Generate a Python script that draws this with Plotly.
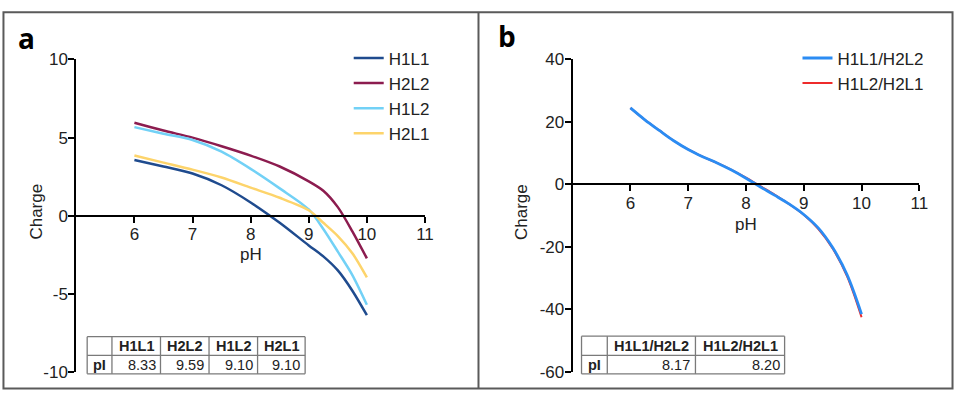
import plotly.graph_objects as go

# ---- Panel a: net charge of the four antibodies vs pH ----
ph_a = [6.0, 6.5, 7.0, 7.5, 8.0, 8.5, 9.0, 9.25, 9.5, 9.75, 10.0]
h1l1 = [3.57, 3.15, 2.70, 1.95, 0.85, -0.45, -1.90, -2.60, -3.50, -4.80, -6.37]
h2l2 = [5.95, 5.45, 5.00, 4.45, 3.85, 3.15, 2.20, 1.60, 0.55, -1.00, -2.73]
h1l2 = [5.67, 5.25, 4.85, 4.10, 3.00, 1.75, 0.40, -0.85, -2.30, -3.80, -5.70]
h2l1 = [3.85, 3.40, 2.95, 2.45, 1.80, 1.15, 0.35, -0.45, -1.30, -2.40, -3.95]

# ---- Panel b: combined charge of the two pairs ----
ph_b = [6.0, 6.25, 6.5, 6.75, 7.0, 7.25, 7.5, 7.75, 8.0, 8.25, 8.5, 8.75,
        9.0, 9.25, 9.5, 9.75, 10.0]
pair_11_22 = [24.5, 20.7, 17.3, 14.0, 11.2, 8.9, 6.9, 4.6, 2.0, -0.8, -3.5,
              -6.3, -9.6, -13.9, -20.2, -28.9, -41.5]
pair_12_21 = [24.5, 20.7, 17.3, 14.0, 11.2, 8.9, 6.9, 4.7, 2.2, -0.55, -3.3,
              -6.3, -9.7, -14.2, -20.5, -29.4, -42.5]

# pI tables
pi_names_a = ["H1L1", "H2L2", "H1L2", "H2L1"]
pi_values_a = ["8.33", "9.59", "9.10", "9.10"]
pi_names_b = ["H1L1/H2L2", "H1L2/H2L1"]
pi_values_b = ["8.17", "8.20"]

# tick labels (plain hyphen minus)
yticks_a = [-10, -5, 0, 5, 10]
yticks_b = [-60, -40, -20, 0, 20, 40]
xticks = [6, 7, 8, 9, 10, 11]

W, H = 964, 401
FONT = "Liberation Sans, Arial, sans-serif"
TXT = "#222222"
FS = 17


def px(x):
    return x / W


def py(y):
    return 1 - y / H


fig = go.Figure()

series_a = [
    ("H1L1", h1l1, "#1f4b8e"),
    ("H2L2", h2l2, "#8c1c4f"),
    ("H1L2", h1l2, "#72d1f6"),
    ("H2L1", h2l1, "#fdd46b"),
]
for name, vals, col in series_a:
    fig.add_trace(go.Scatter(
        x=ph_a, y=vals, name=name, mode="lines",
        line=dict(color=col, width=2.5, shape="spline", smoothing=0.8),
        xaxis="x", yaxis="y", legend="legend",
    ))

fig.add_trace(go.Scatter(
    x=ph_b, y=pair_12_21, name="H1L2/H2L1", mode="lines",
    line=dict(color="#ee2b2b", width=2.0, shape="spline", smoothing=1.0),
    xaxis="x2", yaxis="y2", legend="legend2", legendrank=2,
))
fig.add_trace(go.Scatter(
    x=ph_b, y=pair_11_22, name="H1L1/H2L2", mode="lines",
    line=dict(color="#2b8cf3", width=2.8, shape="spline", smoothing=1.0),
    xaxis="x2", yaxis="y2", legend="legend2", legendrank=1,
))

axis_common = dict(
    showline=True, linecolor="black", linewidth=2,
    ticks="outside", ticklen=6, tickwidth=2, tickcolor="black",
    showgrid=False, zeroline=False,
    tickfont=dict(family=FONT, size=FS, color=TXT),
    ticklabelstandoff=-3,
    fixedrange=True,
)

ydom = [py(381), py(53)]

fig.update_layout(
    width=W, height=H,
    margin=dict(l=0, r=0, t=0, b=0),
    paper_bgcolor="white", plot_bgcolor="white",
    font=dict(family=FONT, size=FS, color=TXT),
    xaxis=dict(domain=[px(77), px(429)], range=[5, 11], anchor="free",
               position=ydom[0] + (ydom[1] - ydom[0]) * 0.5,
               tickvals=xticks, **axis_common),
    yaxis=dict(domain=ydom, range=[-10, 10], anchor="x",
               tickvals=yticks_a, ticktext=[str(v) for v in yticks_a],
               **axis_common),
    xaxis2=dict(domain=[px(578), px(928)], range=[5, 11], anchor="free",
                position=ydom[0] + (ydom[1] - ydom[0]) * 0.6,
                tickvals=xticks, **axis_common),
    yaxis2=dict(domain=ydom, range=[-60, 40], anchor="x2",
                tickvals=yticks_b, ticktext=[str(v) for v in yticks_b],
                **axis_common),
    legend=dict(x=px(352), y=py(33), xanchor="left", yanchor="top",
                bgcolor="rgba(0,0,0,0)", itemwidth=30, tracegroupgap=0,
                font=dict(family=FONT, size=FS, color=TXT)),
    legend2=dict(x=px(805), y=py(33), xanchor="left", yanchor="top",
                 bgcolor="rgba(0,0,0,0)", itemwidth=30, tracegroupgap=0,
                 font=dict(family=FONT, size=FS, color=TXT)),
    showlegend=True,
)

# panel letters and axis titles
annos = [
    dict(text="<b>a</b>", x=px(27), y=py(30), font=dict(family="Open Sans, sans-serif", size=28, color="black")),
    dict(text="<b>b</b>", x=px(512), y=py(28), font=dict(family="Open Sans, sans-serif", size=28, color="black")),
    dict(text="pH", x=px(253), y=py(258)),
    dict(text="pH", x=px(753), y=py(226)),
    dict(text="Charge", x=px(37), y=py(213), textangle=-90),
    dict(text="Charge", x=px(527), y=py(213), textangle=-90),
]
for a in annos:
    a.setdefault("font", dict(family=FONT, size=FS, color=TXT))
    fig.add_annotation(xref="paper", yref="paper", showarrow=False,
                       xanchor="center", yanchor="middle", **a)


# small pI tables: grid lines as shapes, cell text as annotations
def pi_table(names, values, col_edges, top, mid, bottom):
    grid = dict(color="#7a7a7a", width=1.3)
    left, right = col_edges[0], col_edges[-1]
    for yy in (top, mid, bottom):
        fig.add_shape(type="line", xref="paper", yref="paper",
                      x0=px(left), x1=px(right), y0=py(yy), y1=py(yy), line=grid)
    for xx in col_edges:
        fig.add_shape(type="line", xref="paper", yref="paper",
                      x0=px(xx), x1=px(xx), y0=py(top), y1=py(bottom), line=grid)
    tfont = dict(family=FONT, size=14.5, color=TXT)
    hy = (top + mid) / 2
    vy = (mid + bottom) / 2
    fig.add_annotation(text="<b>pI</b>", x=px((col_edges[0] + col_edges[1]) / 2),
                       y=py(vy), xanchor="center", yanchor="middle",
                       xref="paper", yref="paper", showarrow=False, font=tfont)
    for i, (n, v) in enumerate(zip(names, values)):
        c0, c1 = col_edges[i + 1], col_edges[i + 2]
        fig.add_annotation(text="<b>%s</b>" % n, x=px((c0 + c1) / 2), y=py(hy),
                           xanchor="center", yanchor="middle",
                           xref="paper", yref="paper", showarrow=False, font=tfont)
        fig.add_annotation(text=v, x=px(c1 - 3), y=py(vy),
                           xanchor="right", yanchor="middle",
                           xref="paper", yref="paper", showarrow=False, font=tfont)


pi_table(pi_names_a, pi_values_a, [88, 113, 162, 211, 260, 308], 344, 363.5, 383)
pi_table(pi_names_b, pi_values_b, [587, 613, 702, 792], 343.5, 363.5, 383)

# frame around both panels and the divider
frame = dict(color="#5a5a5a", width=2)
fig.add_shape(type="rect", xref="paper", yref="paper",
              x0=px(3.5), x1=px(961.5), y0=py(398.5), y1=py(3.5), line=frame)
fig.add_shape(type="line", xref="paper", yref="paper",
              x0=px(483), x1=px(483), y0=py(398.5), y1=py(3.5), line=frame)

fig.write_html("out.html")
